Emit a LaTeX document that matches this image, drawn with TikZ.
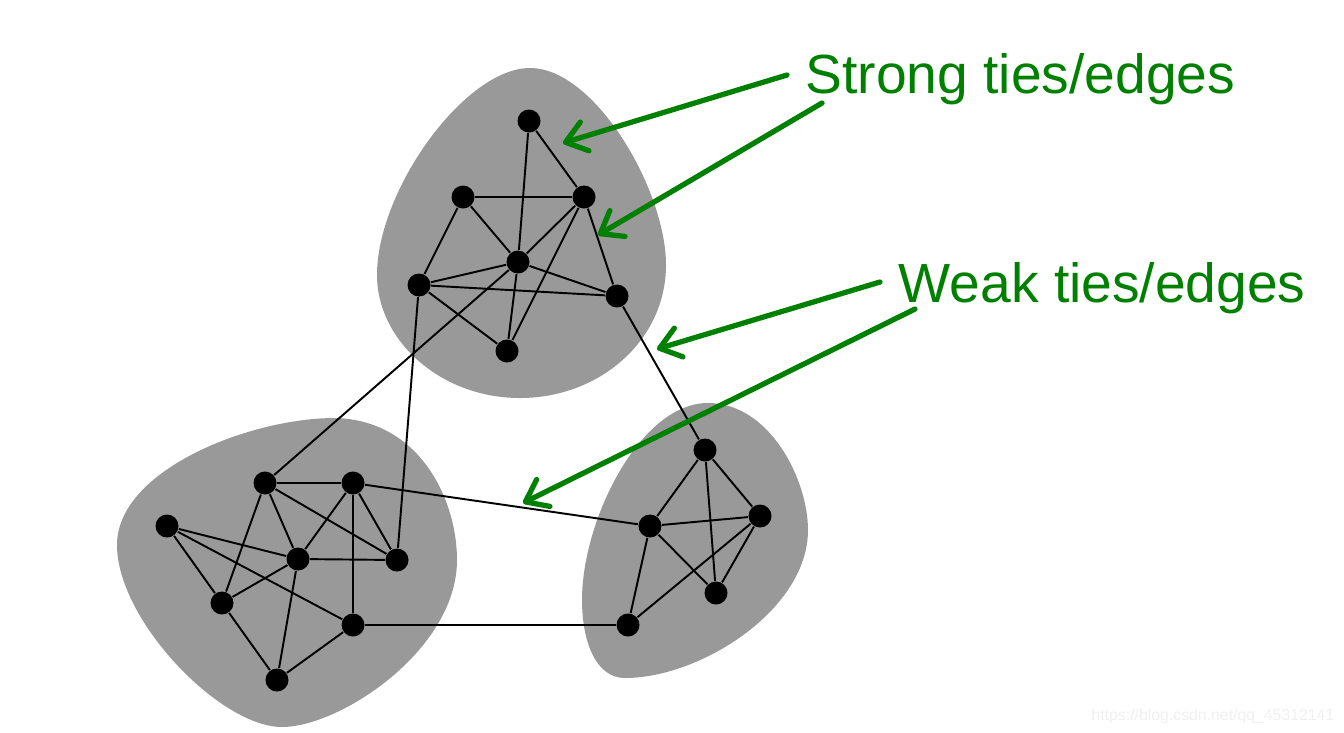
\documentclass[tikz,border=0pt]{standalone}
\usepackage{fontspec}
\setmainfont{Liberation Sans}
\usetikzlibrary{shapes,arrows.meta}
\definecolor{tiegreen}{RGB}{0,128,0}
\definecolor{blobgray}{RGB}{153,153,153}
\tikzstyle{blob}    = [fill=blobgray, draw=none]
\tikzstyle{vertex}  = [circle, fill=black, inner sep=0pt, minimum size=2.3mm]
\tikzstyle{tie}     = [draw, line width=0.55pt]
\tikzstyle{pointer} = [draw=tiegreen, line width=1.5pt, line cap=round, -{Straight Barb[length=2mm, width=3mm, round]}]
\tikzstyle{tiename} = [text=tiegreen, font=\fontsize{15.7}{18}\selectfont, inner sep=0pt, anchor=base west]

\begin{document}
\begin{tikzpicture}[x=0.1mm, y=-0.1mm]
            \useasboundingbox (0,0) rectangle (1344,732);

            % communities
            \path[blob] (530,68) .. controls (595,68) and (666,190) .. (666,265)
                                 .. controls (666,340) and (600,398) .. (520,398)
                                 .. controls (440,398) and (377,340) .. (377,275)
                                 .. controls (377,190) and (465,68) .. (530,68) -- cycle;
            \path[blob] (335,418) .. controls (420,420) and (457,500) .. (457,560)
                                  .. controls (457,650) and (340,727) .. (282,727)
                                  .. controls (220,727) and (117,620) .. (117,545)
                                  .. controls (117,470) and (250,418) .. (335,418) -- cycle;
            \path[blob] (708,403) .. controls (770,403) and (808,480) .. (808,530)
                                  .. controls (808,610) and (700,678) .. (625,678)
                                  .. controls (595,678) and (582,640) .. (582,600)
                                  .. controls (582,520) and (640,403) .. (708,403) -- cycle;

            % top community
            \node[vertex] (top1) at (529,121) {};
            \node[vertex] (top2) at (463,197) {};
            \node[vertex] (top3) at (584,197) {};
            \node[vertex] (top4) at (518,262) {};
            \node[vertex] (top5) at (419,285) {};
            \node[vertex] (top6) at (617,296) {};
            \node[vertex] (top7) at (507,351) {};

            % left community
            \node[vertex] (left1) at (265,483) {};
            \node[vertex] (left2) at (353,483) {};
            \node[vertex] (left3) at (167,526) {};
            \node[vertex] (left4) at (298,559) {};
            \node[vertex] (left5) at (397,560) {};
            \node[vertex] (left6) at (222,603) {};
            \node[vertex] (left7) at (353,625) {};
            \node[vertex] (left8) at (277,680) {};

            % right community
            \node[vertex] (right1) at (705,450) {};
            \node[vertex] (right2) at (650,526) {};
            \node[vertex] (right3) at (760,516) {};
            \node[vertex] (right4) at (716,593) {};
            \node[vertex] (right5) at (628,625) {};

            % strong ties
            \foreach \a/\b in {top1/top3, top1/top4, top4/top7, top2/top3, top2/top4, top2/top5,
                               top3/top4, top3/top7, top3/top6, top5/top4, top5/top6, top4/top6, top5/top7}
                \path [tie] (\a) -- (\b);
            \foreach \a/\b in {left1/left2, left1/left4, left1/left5, left1/left6, left2/left4, left2/left5,
                               left2/left7, left3/left4, left3/left6, left3/left7, left4/left5, left4/left6,
                               left4/left8, left6/left8, left8/left7}
                \path [tie] (\a) -- (\b);
            \foreach \a/\b in {right1/right2, right1/right3, right1/right4, right2/right3,
                               right2/right4, right2/right5, right3/right4, right3/right5}
                \path [tie] (\a) -- (\b);

            % weak ties
            \path [tie] (top4) -- (left1);
            \path [tie] (top5) -- (left5);
            \path [tie] (top6) -- (right1);
            \path [tie] (left2) -- (right2);
            \path [tie] (left7) -- (right5);

            % labels and pointers
            \node[tiename] (strong) at (805,93) {Strong ties/edges};
            \node[tiename] (weak)   at (898,302) {Weak ties/edges};
            \coordinate (strongA) at (787,75);
            \coordinate (strongB) at (822,103);
            \coordinate (weakA)   at (880,282);
            \coordinate (weakB)   at (915,309);
            \coordinate (strongTipA) at (563,143);
            \coordinate (strongTipB) at (598,235);
            \coordinate (weakTipA)   at (657,349);
            \coordinate (weakTipB)   at (523,503);
            \path [pointer] (strongA) -- (strongTipA);
            \path [pointer] (strongB) -- (strongTipB);
            \path [pointer] (weakA)   -- (weakTipA);
            \path [pointer] (weakB)   -- (weakTipB);

            \node[text=black!6, font=\fontsize{4.5}{5}\selectfont, inner sep=0pt, anchor=base east] (mark) at (1335,720) {https://blog.csdn.net/qq\_45312141};
        \end{tikzpicture}
\end{document}
